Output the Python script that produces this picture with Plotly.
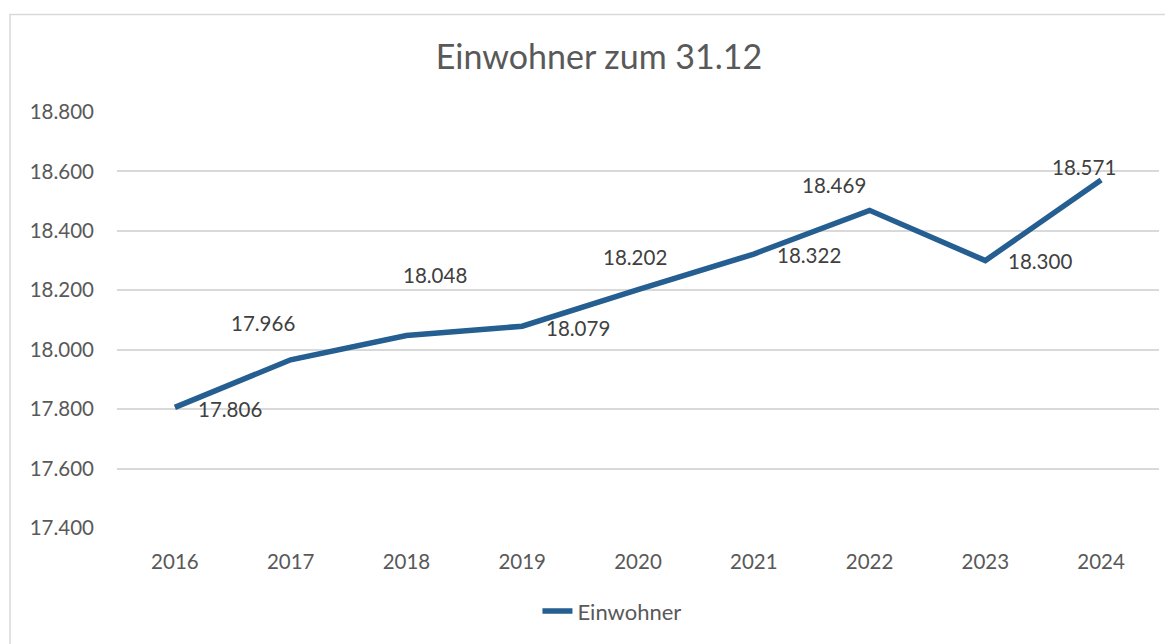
import plotly.graph_objects as go

years = ["2016", "2017", "2018", "2019", "2020", "2021", "2022", "2023", "2024"]
einwohner = [17806, 17966, 18048, 18079, 18202, 18322, 18469, 18300, 18571]
y_ticks = [17400, 17600, 17800, 18000, 18200, 18400, 18600, 18800]

# label offsets in pixels (styling only)
label_dx = [55, -28, 29, 56, -3, 55, -36, 55, -17]
label_dy = [-2, 37, 60, -2, 33, -1, 25, 0, 13]

FONT = "Lato, 'Open Sans', sans-serif"
LINE = "#255E91"

def de(v):
    return f"{v:,}".replace(",", ".")

fig = go.Figure()
fig.add_trace(go.Scatter(
    x=years, y=einwohner, mode="lines", name="Einwohner",
    line=dict(color=LINE, width=5.5),
))

for i, (yv, dx, dy) in enumerate(zip(einwohner, label_dx, label_dy)):
    fig.add_annotation(x=i, y=yv, xref="x", yref="y", text=de(yv), showarrow=False,
                       xshift=dx, yshift=dy,
                       font=dict(family=FONT, size=20.5, color="#404040"))

W, H = 1165, 636
L, R, T, B = 109, 14, 104, 114
fig.update_layout(
    width=W, height=H,
    margin=dict(l=L, r=R, t=T, b=B),
    paper_bgcolor="white", plot_bgcolor="white",
    separators=",.",
    title=dict(text="Einwohner zum 31.12", x=(599 - 8) / W, xanchor="center",
               y=1 - 49 / H, yanchor="middle",
               font=dict(family=FONT, size=34, color="#595959")),
    showlegend=True,
    legend=dict(orientation="h", x=0.475, xanchor="center", y=-0.2, yanchor="middle",
                font=dict(family=FONT, size=22, color="#595959")),
    font=dict(family=FONT, color="#595959"),
)
fig.update_xaxes(type="category", range=[-0.5, 8.5], showgrid=False, zeroline=False,
                 showline=False, ticks="", ticklabelstandoff=19,
                 tickfont=dict(family=FONT, size=20.5, color="#595959"))
fig.update_yaxes(range=[17400, 18800], tickvals=y_ticks, ticktext=[de(v) for v in y_ticks],
                 showgrid=True, gridcolor="#d9d9d9", gridwidth=1.5, zeroline=False,
                 showline=False, ticks="", ticklabelstandoff=22,
                 tickfont=dict(family=FONT, size=20.5, color="#595959"))

pw = W - L - R
ph = H - T - B
fig.add_shape(type="rect", xref="paper", yref="paper",
              x0=(2 - L) / pw, x1=(W + 10 - L) / pw,
              y0=(H - B - H - 20) / ph, y1=(H - B - 6) / ph,
              line=dict(color="#d9d9d9", width=1.5), fillcolor="rgba(0,0,0,0)", layer="below")

fig.write_html("out.html")
